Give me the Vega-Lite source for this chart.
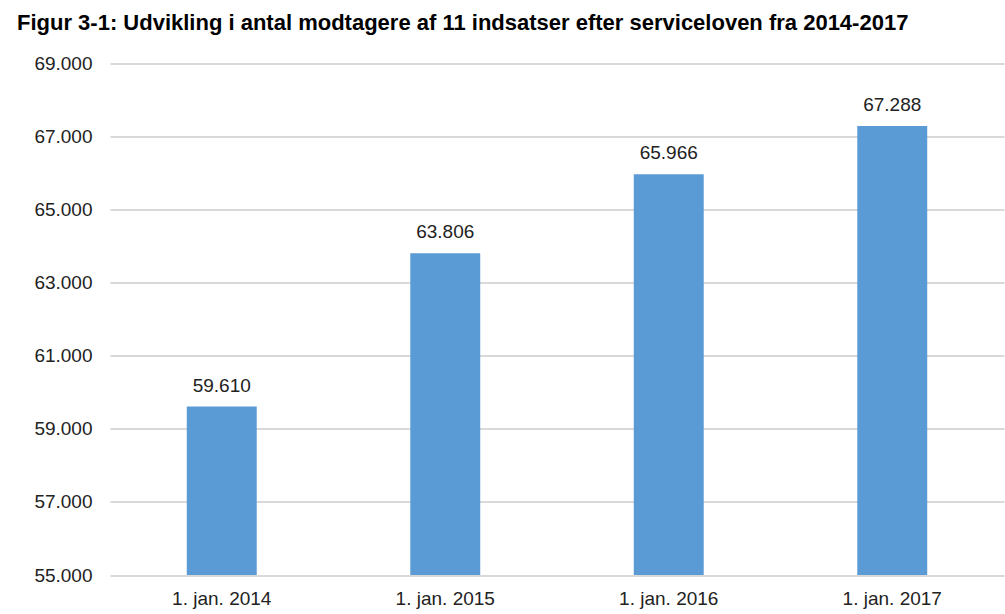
{
  "$schema": "https://vega.github.io/schema/vega-lite/v6.json",
  "width": 894,
  "height": 511.5,
  "autosize": "none",
  "padding": {"left": 110, "top": 63.5, "right": 1, "bottom": 39},
  "background": "white",
  "title": {
    "text": "Figur 3-1: Udvikling i antal modtagere af 11 indsatser efter serviceloven fra 2014-2017",
    "anchor": "start",
    "frame": "group",
    "dx": -93,
    "offset": 3,
    "baseline": "alphabetic",
    "font": "Liberation Sans",
    "fontSize": 22,
    "fontWeight": "bold",
    "color": "#000000"
  },
  "data": {
    "values": [
      {"dato": "1. jan. 2014", "antal": 59610},
      {"dato": "1. jan. 2015", "antal": 63806},
      {"dato": "1. jan. 2016", "antal": 65966},
      {"dato": "1. jan. 2017", "antal": 67288}
    ]
  },
  "encoding": {
    "x": {
      "field": "dato",
      "type": "nominal",
      "sort": null,
      "title": null,
      "scale": {"paddingInner": 0.687, "paddingOuter": 0.3435},
      "axis": {
        "labelAngle": 0,
        "domain": false,
        "ticks": false,
        "tickSize": 0,
        "labelPadding": 14,
        "labelFont": "Liberation Sans",
        "labelFontSize": 19,
        "labelColor": "#222222"
      }
    },
    "y": {
      "field": "antal",
      "type": "quantitative",
      "title": null,
      "scale": {"domain": [55000, 69000], "nice": false, "zero": false},
      "axis": {
        "values": [55000, 57000, 59000, 61000, 63000, 65000, 67000, 69000],
        "format": ",.0f",
        "domain": false,
        "ticks": false,
        "tickSize": 0,
        "labelPadding": 18,
        "labelFont": "Liberation Sans",
        "labelFontSize": 19,
        "labelColor": "#222222",
        "gridColor": "#d9d9d9",
        "gridWidth": 2
      }
    }
  },
  "layer": [
    {"mark": {"type": "bar", "color": "#5b9bd5", "clip": true}},
    {
      "mark": {
        "type": "text",
        "baseline": "alphabetic",
        "dy": -15,
        "font": "Liberation Sans",
        "fontSize": 19,
        "color": "#222222"
      },
      "encoding": {
        "text": {"field": "antal", "type": "quantitative", "format": ",.0f"}
      }
    }
  ],
  "config": {
    "view": {"stroke": null},
    "locale": {
      "number": {"decimal": ",", "thousands": ".", "grouping": [3], "currency": ["", " kr."]}
    }
  }
}
